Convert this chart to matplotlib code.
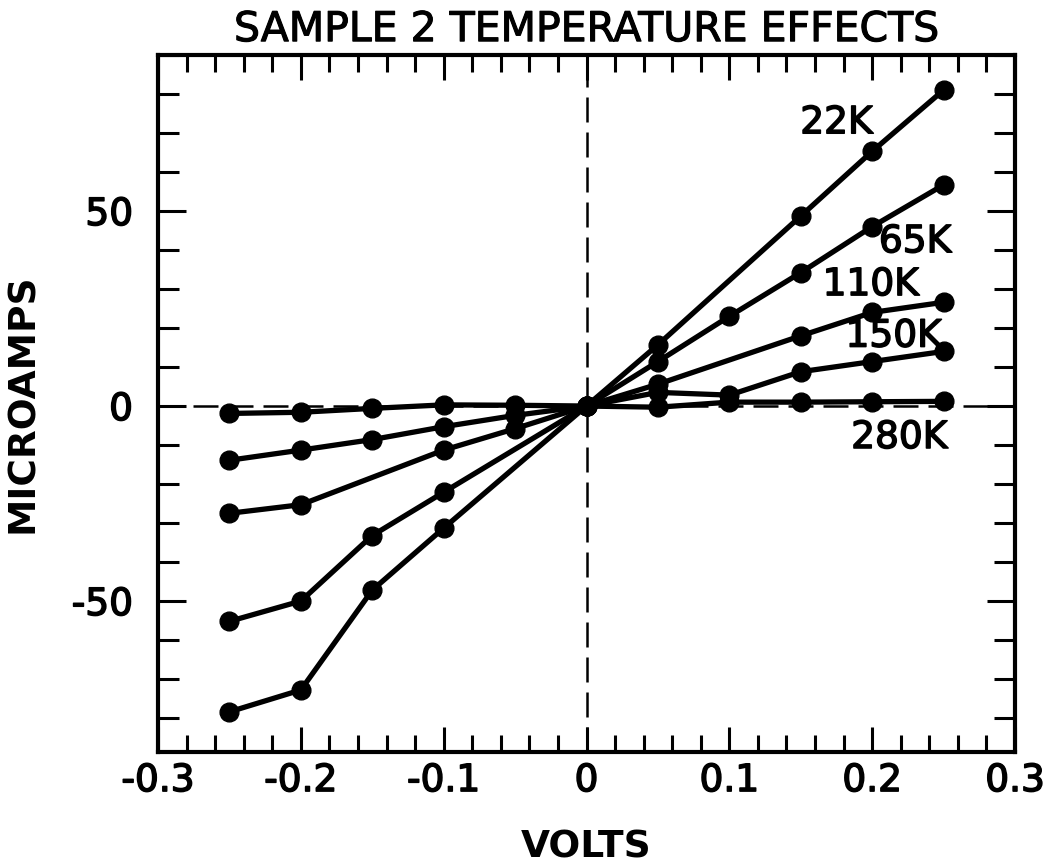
import numpy as np
import matplotlib.pyplot as plt
import matplotlib.patheffects as pe
from matplotlib.ticker import MultipleLocator, FixedLocator, FixedFormatter

# data (NaN = no point drawn at that voltage)
nan = np.nan
volts = [-0.25, -0.2, -0.15, -0.1, -0.05, 0, 0.05, 0.1, 0.15, 0.2, 0.25]
i_22k = [-78.4, -72.8, -47.2, -31.3, nan, 0, 15.7, nan, 48.7, 65.3, 81.0]
i_65k = [-55.2, -50.0, -33.2, -22.1, nan, 0, 11.4, 23.0, 34.2, 46.0, 56.7]
i_110k = [-27.5, -25.3, nan, -11.3, -5.8, 0, 5.6, nan, 18.0, 24.0, 26.6]
i_150k = [-13.9, -11.3, -8.6, -5.3, -2.4, 0, 3.5, 2.8, 8.8, 11.4, 14.0]
i_280k = [-1.9, -1.6, -0.6, 0.3, 0.2, 0, -0.3, 1.0, 1.0, 1.1, 1.2]

curves = [i_22k, i_65k, i_110k, i_150k, i_280k]
names = ['22K', '65K', '110K', '150K', '280K']
label_x = [0.175, 0.230, 0.199, 0.215, 0.219]
label_y = [72.5, 42.0, 31.0, 17.8, -8.2]

x_ticks = [-0.3, -0.2, -0.1, 0, 0.1, 0.2, 0.3]
x_ticklabels = ['-0.3', '-0.2', '-0.1', '0', '0.1', '0.2', '0.3']
y_ticks = [-50, 0, 50]
y_ticklabels = ['-50', '0', '50']

plt.rcParams['font.family'] = 'DejaVu Sans'
# slightly heavier strokes, like the hand lettering
thick = [pe.withStroke(linewidth=1.1, foreground='k')]

fig = plt.figure(figsize=(10.54, 8.64), dpi=100)
ax = fig.add_axes([158 / 1054, 1 - 752 / 864, (1015 - 158) / 1054, (752 - 55) / 864])

# dashed zero lines
ax.axhline(0, color='k', lw=1.8, ls=(0, (10, 4)), zorder=1)
ax.axvline(0, color='k', lw=1.8, ls=(0, (10, 4)), zorder=1)

x = np.array(volts)
for y in curves:
    y = np.array(y)
    ok = ~np.isnan(y)
    ax.plot(x[ok], y[ok], color='k', lw=3.8, marker='o', ms=13.5, zorder=3)

for name, lx, ly in zip(names, label_x, label_y):
    ax.text(lx, ly, name, fontsize=27, ha='center', va='center', zorder=4,
            path_effects=thick)

ax.set_xlim(-0.3, 0.3)
ax.set_ylim(-88.7, 90)

ax.xaxis.set_major_locator(FixedLocator(x_ticks))
ax.xaxis.set_major_formatter(FixedFormatter(x_ticklabels))
ax.xaxis.set_minor_locator(MultipleLocator(0.02))
ax.yaxis.set_major_locator(FixedLocator(y_ticks))
ax.yaxis.set_major_formatter(FixedFormatter(y_ticklabels))
ax.yaxis.set_minor_locator(MultipleLocator(10))

ax.tick_params(axis='both', which='both', direction='in', top=True, right=True, width=2.2)
ax.tick_params(axis='x', which='major', length=18, pad=8, labelsize=27)
ax.tick_params(axis='x', which='minor', length=12)
ax.tick_params(axis='y', which='major', length=20, pad=18, labelsize=27)
ax.tick_params(axis='y', which='minor', length=15)
for lab in ax.get_xticklabels() + ax.get_yticklabels():
    lab.set_path_effects(thick)
for s in ax.spines.values():
    s.set_linewidth(3)

ax.set_xlabel('VOLTS', fontsize=27, fontweight='bold', labelpad=22)
ax.set_ylabel('MICROAMPS', fontsize=27, fontweight='bold', labelpad=22)
ax.set_title('SAMPLE 2 TEMPERATURE EFFECTS', fontsize=29.5, pad=10,
             path_effects=[pe.withStroke(linewidth=0.8, foreground='k')])

fig.savefig('out.png', dpi=100)
